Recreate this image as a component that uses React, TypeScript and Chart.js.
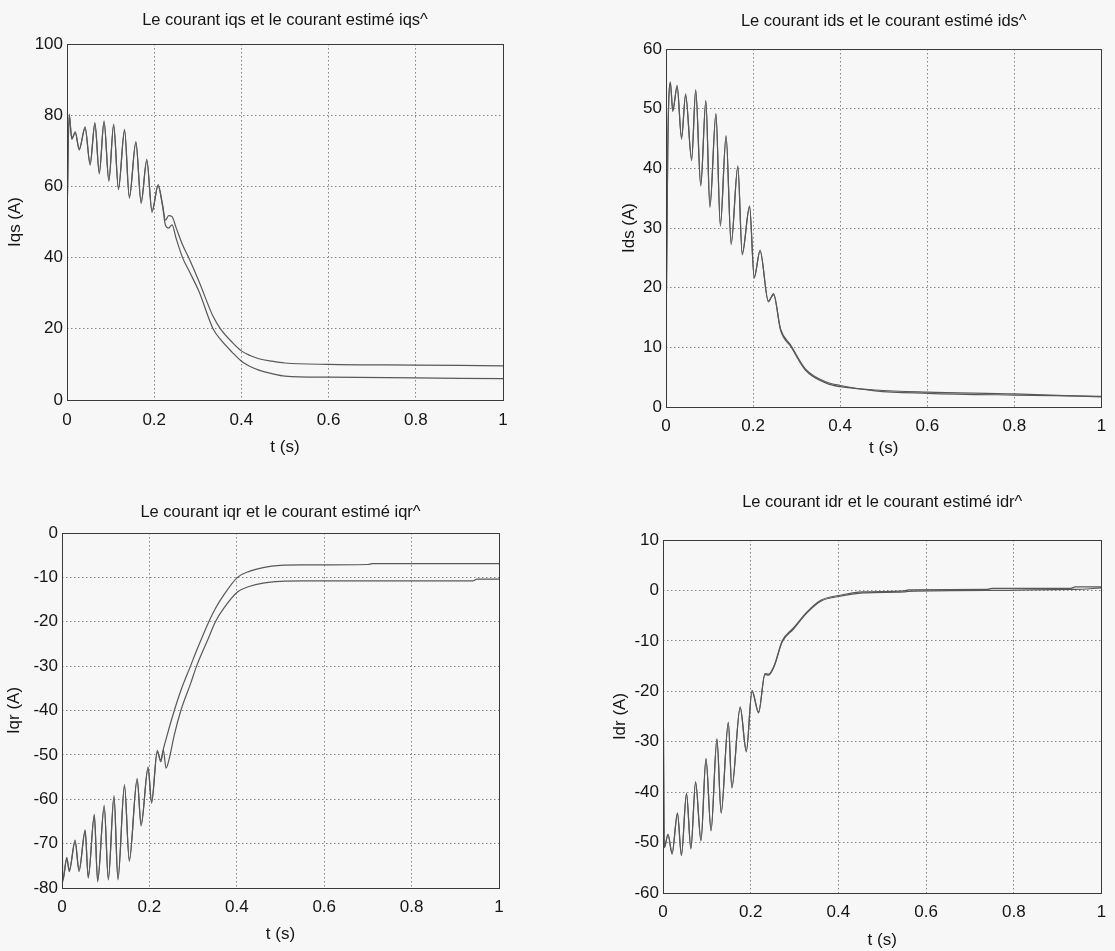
import React, { useEffect, useRef } from "react";
import { Chart, registerables } from "chart.js";

Chart.register(...registerables);

const FONT = "'Liberation Sans', Arial, Helvetica, sans-serif";
const TITLE_SIZE = 16.5;
const TICK_SIZE = 17;
const AXIS_TITLE_SIZE = 17;
const LH = 1.2;
const TEXT = "#151515";
const LINE = "#585858";
const GRID = "#858585";

// ---------- data ----------
const xTickValues = [0, 0.2, 0.4, 0.6, 0.8, 1];

// Iqs
const iqsT = [0, 0.005, 0.011, 0.019, 0.028, 0.0415, 0.053, 0.064, 0.074, 0.085, 0.096, 0.107, 0.118, 0.132, 0.143, 0.158, 0.17, 0.183, 0.195, 0.209, 0.219, 0.226, 0.233, 0.241, 0.25, 0.265, 0.279, 0.303, 0.335, 0.352, 0.379, 0.4, 0.42, 0.44, 0.47, 0.5, 0.6, 0.8, 1.0];
const iqsMeasured = [50, 80.3, 73.2, 75.3, 70.2, 76.7, 66, 77.9, 63.5, 78.4, 61.4, 77.5, 59.1, 76, 56.7, 72.6, 55.2, 67.6, 52.7, 60.5, 55, 50.5, 51.8, 51.5, 48.5, 43.6, 40, 33.2, 23.5, 20, 16.2, 13.8, 12.5, 11.6, 10.9, 10.4, 10.0, 9.8, 9.6];
const iqsEstimated = [50, 80.0, 73.6, 75.0, 70.6, 76.3, 66.5, 77.5, 64.0, 78.0, 61.9, 77.1, 59.6, 75.6, 57.2, 72.2, 55.7, 67.2, 53.2, 60.1, 54.6, 49, 48.3, 49.2, 45.5, 40, 36.5, 30.4, 20, 17, 13.4, 10.9, 9.4, 8.4, 7.4, 6.7, 6.4, 6.2, 6.0];
const iqsTicks = [0, 20, 40, 60, 80, 100];

// Ids
const idsT = [0, 0.004, 0.0101, 0.0155, 0.0256, 0.0357, 0.045, 0.0589, 0.0682, 0.0798, 0.0915, 0.1008, 0.1147, 0.1248, 0.138, 0.1496, 0.165, 0.175, 0.192, 0.2025, 0.216, 0.235, 0.247, 0.263, 0.287, 0.32, 0.368, 0.4, 0.48, 0.6, 0.8, 1.0];
const idsMeasured = [10, 43, 54.5, 49.5, 53.9, 44.9, 52.5, 41.3, 53.2, 37, 51.4, 33.4, 49.2, 30.3, 45.5, 27.2, 40.4, 25.5, 33.7, 21.6, 26.3, 17.6, 19, 12.9, 10.1, 6.2, 4, 3.4, 2.85, 2.5, 2.2, 1.7];
const idsEstimated = [10, 43, 54.2, 49.8, 53.6, 45.2, 52.2, 41.6, 53.0, 37.3, 51.2, 33.7, 49.0, 30.6, 45.3, 27.5, 40.2, 25.8, 33.5, 21.8, 26.1, 17.8, 18.8, 13.1, 10.3, 6.4, 4.2, 3.6, 2.7, 2.3, 2.0, 1.8];
const idsTicks = [0, 10, 20, 30, 40, 50, 60];

// Iqr
const iqrT = [0, 0.0015, 0.011, 0.0166, 0.03, 0.039, 0.053, 0.06, 0.074, 0.0815, 0.0966, 0.106, 0.119, 0.128, 0.143, 0.154, 0.172, 0.181, 0.197, 0.205, 0.218, 0.226, 0.232, 0.238, 0.245, 0.257, 0.272, 0.294, 0.308, 0.336, 0.351, 0.37, 0.4015, 0.43, 0.46, 0.5, 0.55, 0.7, 0.71, 0.94, 0.95, 1.0];
const iqrMeasured = [-52, -78.6, -73.1, -76.3, -69.2, -76.3, -66.9, -77.8, -63.4, -78.6, -61.4, -78.2, -59.1, -78.2, -56.7, -74, -55.3, -66, -52.7, -60.9, -49, -51.6, -48.7, -46.5, -44, -40, -35.5, -30, -26.5, -20, -17, -14, -10, -8.6, -7.8, -7.3, -7.2, -7.1, -6.9, -6.9, -6.9, -6.9];
const iqrEstimated = [-52, -78.2, -73.5, -75.9, -69.6, -75.9, -67.3, -77.4, -63.8, -78.2, -61.8, -77.8, -59.5, -77.8, -57.1, -73.6, -55.7, -65.6, -53.1, -60.5, -49.4, -51.2, -48.9, -53, -51, -45.5, -40, -34, -30, -23.5, -20, -17, -13.3, -12, -11.3, -10.9, -10.8, -10.8, -10.8, -10.8, -10.4, -10.4];
const iqrTicks = [-80, -70, -60, -50, -40, -30, -20, -10, 0];

// Idr
const idrT = [0, 0.003, 0.0115, 0.0207, 0.033, 0.042, 0.0536, 0.0636, 0.0743, 0.0866, 0.098, 0.1096, 0.123, 0.1326, 0.149, 0.157, 0.176, 0.19, 0.203, 0.218, 0.2325, 0.241, 0.253, 0.272, 0.297, 0.329, 0.361, 0.401, 0.457, 0.55, 0.56, 0.74, 0.75, 0.93, 0.94, 1.0];
const idrMeasured = [-11, -51, -48.3, -52.3, -44.1, -52.6, -40.2, -51.3, -37.9, -49.7, -33.3, -47.7, -29.4, -44.2, -26.1, -39.2, -23.1, -32, -19.8, -24.3, -16.5, -16.6, -15, -10, -7.5, -4.2, -1.9, -1.0, -0.3, -0.1, 0.1, 0.2, 0.4, 0.4, 0.7, 0.7];
const idrEstimated = [-11, -51, -48.5, -52.0, -44.3, -52.4, -40.4, -51.1, -38.1, -49.5, -33.5, -47.5, -29.6, -44.0, -26.3, -39.0, -23.3, -31.8, -20.0, -24.1, -16.7, -16.8, -15.2, -10.2, -7.7, -4.4, -2.1, -1.2, -0.5, -0.3, -0.2, 0.0, 0.0, 0.2, 0.2, 0.5];
const idrTicks = [-60, -50, -40, -30, -20, -10, 0, 10];

// ---------- layout (page pixel positions) ----------
type Box = {
  cx: number; cy: number; cw: number; ch: number;
  L: number; T: number; R: number; B: number;
  titleY: number; xTickY: number; xTitleY: number; yTitleX: number;
};

type PanelSpec = {
  title: string;
  yLabel: string;
  t: number[];
  a: number[];
  b: number[];
  yTicks: number[];
  box: Box;
};

const panels: PanelSpec[] = [
  {
    title: "Le courant iqs et le courant estimé iqs^",
    yLabel: "Iqs (A)",
    t: iqsT, a: iqsMeasured, b: iqsEstimated, yTicks: iqsTicks,
    box: { cx: 0, cy: 0, cw: 550, ch: 470, L: 67, T: 44, R: 503, B: 400, titleY: 20, xTickY: 420, xTitleY: 447, yTitleX: 15 },
  },
  {
    title: "Le courant ids et le courant estimé ids^",
    yLabel: "Ids (A)",
    t: idsT, a: idsMeasured, b: idsEstimated, yTicks: idsTicks,
    box: { cx: 555, cy: 0, cw: 560, ch: 470, L: 666, T: 49, R: 1105, B: 407, titleY: 21, xTickY: 426, xTitleY: 448, yTitleX: 629 },
  },
  {
    title: "Le courant iqr et le courant estimé iqr^",
    yLabel: "Iqr (A)",
    t: iqrT, a: iqrMeasured, b: iqrEstimated, yTicks: iqrTicks,
    box: { cx: 0, cy: 475, cw: 550, ch: 476, L: 62, T: 533, R: 499, B: 888, titleY: 512, xTickY: 907, xTitleY: 934, yTitleX: 14 },
  },
  {
    title: "Le courant idr et le courant estimé idr^",
    yLabel: "Idr (A)",
    t: idrT, a: idrMeasured, b: idrEstimated, yTicks: idrTicks,
    box: { cx: 555, cy: 475, cw: 560, ch: 476, L: 663, T: 540, R: 1103, B: 893, titleY: 502, xTickY: 912, xTitleY: 940, yTitleX: 620 },
  },
];

const boxPlugin = {
  id: "axesBox",
  afterDraw(chart: any) {
    const { ctx, chartArea: a } = chart;
    ctx.save();
    ctx.strokeStyle = "#3a3a3a";
    ctx.lineWidth = 1;
    ctx.strokeRect(
      Math.round(a.left) + 0.5,
      Math.round(a.top) + 0.5,
      Math.round(a.right - a.left),
      Math.round(a.bottom - a.top)
    );
    ctx.restore();
  },
};

function Panel({ spec }: { spec: PanelSpec }) {
  const ref = useRef<HTMLCanvasElement | null>(null);
  const bx = spec.box;

  useEffect(() => {
    if (!ref.current) return;
    const titleLH = TITLE_SIZE * LH;
    const titlePadTop = bx.titleY - bx.cy - titleLH / 2;
    const titlePadBottom = bx.T - bx.cy - titleLH - titlePadTop;
    const yAxisWidth = bx.L - bx.cx;
    const xAxisHeight = bx.cy + bx.ch - bx.B;
    const xTickPad = bx.xTickY - bx.B - (TICK_SIZE * LH) / 2;
    const xTitlePad = bx.cy + bx.ch - bx.xTitleY - (AXIS_TITLE_SIZE * LH) / 2;
    const yTitlePad = bx.yTitleX - bx.cx - (AXIS_TITLE_SIZE * LH) / 2;
    const rightPad = bx.cx + bx.cw - bx.R;

    const line = (ys: number[], label: string) => ({
      label,
      data: spec.t.map((t, i) => ({ x: t, y: ys[i] })),
      borderColor: LINE,
      borderWidth: 1.2,
      pointRadius: 0,
      cubicInterpolationMode: "monotone" as const,
      fill: false,
    });

    const tickFont = { family: FONT, size: TICK_SIZE };
    const axisTitleFont = { family: FONT, size: AXIS_TITLE_SIZE };

    const chart = new Chart(ref.current, {
      type: "line",
      data: { datasets: [line(spec.a, "courant"), line(spec.b, "courant estimé")] },
      options: {
        animation: false,
        responsive: false,
        devicePixelRatio: 1,
        layout: { padding: { left: 0, top: 0, right: rightPad, bottom: 0 } },
        plugins: {
          legend: { display: false },
          tooltip: { enabled: false },
          title: {
            display: true,
            text: spec.title,
            fullSize: false,
            color: TEXT,
            font: { family: FONT, size: TITLE_SIZE, weight: "normal" },
            padding: { top: titlePadTop, bottom: titlePadBottom },
          },
        },
        scales: {
          x: {
            type: "linear",
            min: 0,
            max: 1,
            afterBuildTicks: (s: any) => {
              s.ticks = xTickValues.map((v) => ({ value: v }));
            },
            afterFit: (s: any) => {
              s.height = xAxisHeight;
            },
            ticks: {
              font: tickFont,
              color: TEXT,
              padding: xTickPad,
              maxRotation: 0,
              autoSkip: false,
              callback: (v: any) => String(v),
            },
            grid: { color: GRID, lineWidth: 1, drawTicks: false },
            border: { display: false, dash: [1.5, 2.5] },
            title: {
              display: true,
              text: "t (s)",
              color: TEXT,
              font: axisTitleFont,
              padding: { top: 0, bottom: xTitlePad },
            },
          },
          y: {
            type: "linear",
            min: spec.yTicks[0],
            max: spec.yTicks[spec.yTicks.length - 1],
            afterBuildTicks: (s: any) => {
              s.ticks = spec.yTicks.map((v) => ({ value: v }));
            },
            afterFit: (s: any) => {
              s.width = yAxisWidth;
            },
            ticks: {
              font: tickFont,
              color: TEXT,
              padding: 4,
              autoSkip: false,
              callback: (v: any) => String(v),
            },
            grid: { color: GRID, lineWidth: 1, drawTicks: false },
            border: { display: false, dash: [1.5, 2.5] },
            title: {
              display: true,
              text: spec.yLabel,
              color: TEXT,
              font: axisTitleFont,
              padding: { top: yTitlePad, bottom: 0 },
            },
          },
        },
      } as any,
      plugins: [boxPlugin],
    });
    return () => chart.destroy();
  }, []);

  return (
    <canvas
      ref={ref}
      width={bx.cw}
      height={bx.ch}
      style={{ position: "absolute", left: bx.cx, top: bx.cy, width: bx.cw, height: bx.ch }}
    />
  );
}

export default function App() {
  return (
    <div
      style={{
        position: "absolute",
        left: 0,
        top: 0,
        width: 1115,
        height: 951,
        background: "#f7f7f7",
        overflow: "hidden",
      }}
    >
      {panels.map((p, i) => (
        <Panel key={i} spec={p} />
      ))}
    </div>
  );
}
